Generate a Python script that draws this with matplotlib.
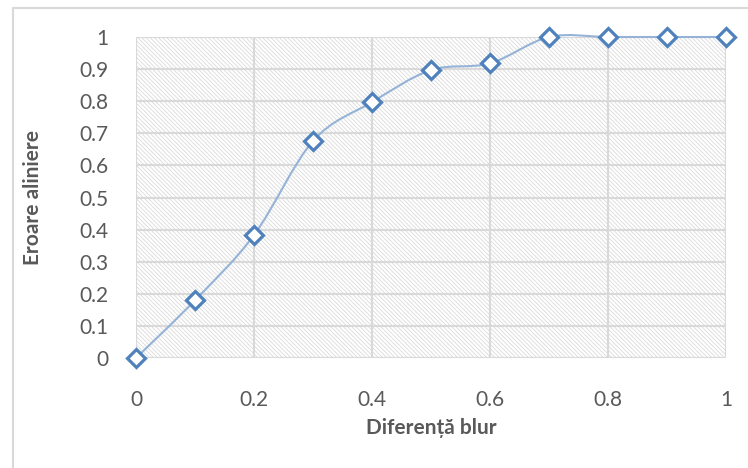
import matplotlib
matplotlib.use("Agg")
import matplotlib.pyplot as plt
import numpy as np
from matplotlib.path import Path
from matplotlib.patches import PathPatch, Rectangle
from matplotlib.lines import Line2D

# diferenta blur vs eroare aliniere
blur = [0.0, 0.1, 0.2, 0.3, 0.4, 0.5, 0.6, 0.7, 0.8, 0.9, 1.0]
eroare = [0.0, 0.18, 0.383, 0.676, 0.797, 0.897, 0.918, 1.0, 1.0, 1.0, 1.0]
x_ticks = [0, 0.2, 0.4, 0.6, 0.8, 1]
x_labels = ["0", "0.2", "0.4", "0.6", "0.8", "1"]
y_ticks = [0, 0.1, 0.2, 0.3, 0.4, 0.5, 0.6, 0.7, 0.8, 0.9, 1]
y_labels = ["0", "0.1", "0.2", "0.3", "0.4", "0.5", "0.6", "0.7", "0.8", "0.9", "1"]

txt = "#595959"
grid = "#D9D9D9"
plt.rcParams["font.family"] = ["Lato", "DejaVu Sans"]
plt.rcParams["hatch.color"] = "#DADADA"
plt.rcParams["hatch.linewidth"] = 0.6

fig = plt.figure(figsize=(7.48, 4.68), dpi=100)
ax = fig.add_axes([136 / 748, 1 - 358 / 468, 590 / 748, 321 / 468])

# outer chart frame (left + top edges visible)
fig.add_artist(Line2D([13 / 748, 13 / 748], [0, 1 - 8 / 468], transform=fig.transFigure,
                      color=grid, lw=1.5))
fig.add_artist(Line2D([13 / 748, 1], [1 - 8 / 468, 1 - 8 / 468], transform=fig.transFigure,
                      color=grid, lw=1.5))

ax.set_xlim(0, 1)
ax.set_ylim(0, 1)
ax.add_patch(Rectangle((0, 0), 1, 1, transform=ax.transAxes, facecolor="white",
                       hatch="\\" * 8, edgecolor="#DADADA", lw=0, zorder=0))
ax.set_axisbelow(True)
ax.grid(True, color=grid, lw=1.5)
for s in ax.spines.values():
    s.set_visible(False)
ax.plot([1, 1], [0, 1], color=grid, lw=1.5, zorder=1)
ax.plot([0, 1], [0, 0], color=grid, lw=1.5, zorder=1)

# smoothed line (Excel-like bezier through the points)
xs = np.array(blur)
ys = np.array(eroare)
verts = [(xs[0], ys[0])]
codes = [Path.MOVETO]
n = len(xs)
for i in range(n - 1):
    p0 = np.array([xs[max(i - 1, 0)], ys[max(i - 1, 0)]])
    p1 = np.array([xs[i], ys[i]])
    p2 = np.array([xs[i + 1], ys[i + 1]])
    p3 = np.array([xs[min(i + 2, n - 1)], ys[min(i + 2, n - 1)]])
    c1 = p1 + (p2 - p0) / 6
    c2 = p2 - (p3 - p1) / 6
    verts += [tuple(c1), tuple(c2), tuple(p2)]
    codes += [Path.CURVE4] * 3
ax.add_patch(PathPatch(Path(verts, codes), facecolor="none", edgecolor="#95B3D7",
                       lw=1.5, zorder=3, clip_on=False))
ax.plot(blur, eroare, linestyle="none", marker="D", markersize=9,
        markerfacecolor="white", markeredgecolor="#4F81BD", markeredgewidth=2.3,
        zorder=4, clip_on=False)

ax.set_xticks(x_ticks)
ax.set_xticklabels(x_labels)
ax.set_yticks(y_ticks)
ax.set_yticklabels(y_labels)
ax.tick_params(length=0, labelsize=15, colors=txt)
ax.tick_params(axis="x", pad=23)
ax.tick_params(axis="y", pad=20)
ax.set_xlabel("Diferență blur", fontsize=15, fontweight="bold", color=txt, labelpad=6)
ax.set_ylabel("Eroare aliniere", fontsize=15, fontweight="bold", color=txt, labelpad=26)

fig.savefig("out.png", dpi=100)
